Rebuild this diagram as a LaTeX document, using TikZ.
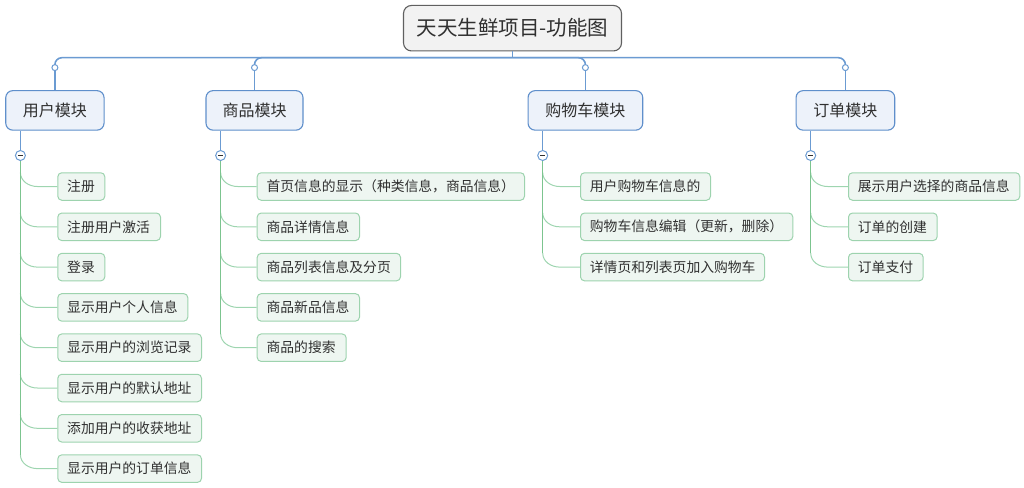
\documentclass[tikz,border=0pt]{standalone}
\usepackage{fontspec}
\setmainfont{Noto Sans CJK SC}
\usetikzlibrary{calc}
\definecolor{busblue}{HTML}{6B9BD2}
\definecolor{modfill}{HTML}{EDF2FA}
\definecolor{modline}{HTML}{5F8FCB}
\definecolor{rootfill}{HTML}{F2F2F2}
\definecolor{rootline}{HTML}{606060}
\definecolor{leaffill}{HTML}{EEF6F1}
\definecolor{leafline}{HTML}{9DD3AE}
\definecolor{trunkgreen}{HTML}{7CC48F}
\definecolor{branchgreen}{HTML}{9ED5B0}
\definecolor{txt}{HTML}{303030}
\begin{document}
\begin{tikzpicture}[x=1pt,y=1pt,
  rootbox/.style={draw=rootline, fill=rootfill, line width=1.1pt, rounded corners=8pt,
    minimum width=218pt, minimum height=45.5pt, inner sep=0pt, text=txt,
    font=\fontsize{20.5}{24}\selectfont},
  modbox/.style={draw=modline, fill=modfill, line width=1.1pt, rounded corners=7pt,
    minimum height=39.5pt, inner sep=0pt, text=txt, font=\fontsize{16}{19}\selectfont},
  leaf/.style={draw=leafline, fill=leaffill, line width=1pt, rounded corners=4pt,
    minimum height=27.5pt, inner ysep=0pt, inner xsep=9.4pt, anchor=west, text=txt,
    align=left, font=\fontsize{13.8}{16}\selectfont},
  busline/.style={draw=busblue, line width=1.6pt},
  knob/.style={circle, draw=busblue, fill=white, line width=1pt, minimum size=6pt, inner sep=0pt},
  minusknob/.style={circle, draw=busblue, fill=white, line width=1pt, minimum size=10pt, inner sep=0pt,
    path picture={\draw[line width=1.2pt, txt] ($(path picture bounding box.center)+(-2.6pt,0)$) -- ($(path picture bounding box.center)+(2.6pt,0)$);}},
  trunk/.style={draw=trunkgreen, line width=1.5pt},
  branch/.style={draw=branchgreen, line width=1pt},
]
\useasboundingbox (0,0) rectangle (1024,-487);

% root
\node[rootbox] (root) at (512.5,-28.2) {天天生鲜项目-功能图};
\coordinate (bus) at (512.5,-57.7);

% modules
\node[modbox, minimum width=98.3pt] (m1) at (54.9,-110.4) {用户模块};
\node[modbox, minimum width=97pt] (m2) at (254.5,-110.4) {商品模块};
\node[modbox, minimum width=114.7pt] (m3) at (585.4,-110.4) {购物车模块};
\node[modbox, minimum width=98.7pt] (m4) at (845.4,-110.4) {订单模块};

% small knobs above modules
\foreach \m in {1,2,3,4} {
  \node[knob] (k\m) at ($(m\m.north)+(0,22.5)$) {};
}

% bus
\draw[busline] (root.south) -- (bus);
\foreach \m in {1,2,3,4} {
  \draw[busline, rounded corners=7pt] (bus) -| (k\m.north);
  \draw[busline] (k\m.south) -- (m\m.north);
}

% minus knobs under modules
\foreach \m in {1,2,3,4} {
  \node[minusknob] (mm\m) at ($(m\m.south west)+(15.2,-24.8)$) {};
  \draw[busline, line width=1.3pt] (m\m.south west -| mm\m) -- (mm\m.north);
}

% user module leaves
\foreach \w/\t [count=\i] in {47/注册, 102.7/注册用户激活, 47/登录, 130/显示用户个人信息,
  143.7/显示用户的浏览记录, 143.7/显示用户的默认地址, 143.7/添加用户的收获地址, 143.7/显示用户的订单信息} {
  \node[leaf, text width=\w pt-18.8pt] (u\i) at (57.3,{-186.5-40.3*(\i-1)}) {\t};
  \draw[branch] ($(mm1 |- u\i.west)+(0,14)$) to[out=-90,in=180] ($(mm1 |- u\i.west)+(17,0)$) -- (u\i.west);
}
\draw[trunk] (mm1.south) -- ($(mm1 |- u8.west)+(0,14)$);

% goods module leaves
\foreach \w/\t [count=\i] in {267.3/首页信息的显示（种类信息，商品信息）, 102.3/商品详情信息, 143.3/商品列表信息及分页,
  102.3/商品新品信息, 89/商品的搜索} {
  \node[leaf, text width=\w pt-18.8pt] (g\i) at (256.7,{-186.5-40.3*(\i-1)}) {\t};
  \draw[branch] ($(mm2 |- g\i.west)+(0,14)$) to[out=-90,in=180] ($(mm2 |- g\i.west)+(17,0)$) -- (g\i.west);
}
\draw[trunk] (mm2.south) -- ($(mm2 |- g5.west)+(0,14)$);

% cart module leaves
\foreach \w/\t [count=\i] in {130/用户购物车信息的, 212.3/购物车信息编辑（更新，删除）, 184/详情页和列表页加入购物车} {
  \node[leaf, text width=\w pt-18.8pt] (c\i) at (580,{-186.5-40.3*(\i-1)}) {\t};
  \draw[branch] ($(mm3 |- c\i.west)+(0,14)$) to[out=-90,in=180] ($(mm3 |- c\i.west)+(17,0)$) -- (c\i.west);
}
\draw[trunk] (mm3.south) -- ($(mm3 |- c3.west)+(0,14)$);

% order module leaves
\foreach \w/\t [count=\i] in {171.3/展示用户选择的商品信息, 88.7/订单的创建, 74.7/订单支付} {
  \node[leaf, text width=\w pt-18.8pt] (o\i) at (848,{-186.5-40.3*(\i-1)}) {\t};
  \draw[branch] ($(mm4 |- o\i.west)+(0,14)$) to[out=-90,in=180] ($(mm4 |- o\i.west)+(17,0)$) -- (o\i.west);
}
\draw[trunk] (mm4.south) -- ($(mm4 |- o3.west)+(0,14)$);
\end{tikzpicture}
\end{document}
